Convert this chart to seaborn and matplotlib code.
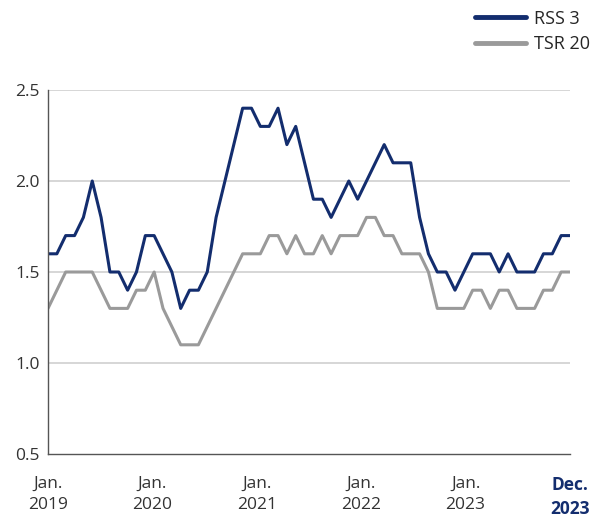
import numpy as np
import pandas as pd
import matplotlib.pyplot as plt
import seaborn as sns

months = pd.date_range("2019-01-01", "2023-12-01", freq="MS")

rss3 = [1.6, 1.6, 1.7, 1.7, 1.8, 2.0, 1.8, 1.5, 1.5, 1.4, 1.5, 1.7,
        1.7, 1.6, 1.5, 1.3, 1.4, 1.4, 1.5, 1.8, 2.0, 2.2, 2.4, 2.4,
        2.3, 2.3, 2.4, 2.2, 2.3, 2.1, 1.9, 1.9, 1.8, 1.9, 2.0, 1.9,
        2.0, 2.1, 2.2, 2.1, 2.1, 2.1, 1.8, 1.6, 1.5, 1.5, 1.4, 1.5,
        1.6, 1.6, 1.6, 1.5, 1.6, 1.5, 1.5, 1.5, 1.6, 1.6, 1.7, 1.7]
tsr20 = [1.3, 1.4, 1.5, 1.5, 1.5, 1.5, 1.4, 1.3, 1.3, 1.3, 1.4, 1.4,
         1.5, 1.3, 1.2, 1.1, 1.1, 1.1, 1.2, 1.3, 1.4, 1.5, 1.6, 1.6,
         1.6, 1.7, 1.7, 1.6, 1.7, 1.6, 1.6, 1.7, 1.6, 1.7, 1.7, 1.7,
         1.8, 1.8, 1.7, 1.7, 1.6, 1.6, 1.6, 1.5, 1.3, 1.3, 1.3, 1.3,
         1.4, 1.4, 1.3, 1.4, 1.4, 1.3, 1.3, 1.3, 1.4, 1.4, 1.5, 1.5]

series_names = ["RSS 3", "TSR 20"]
tick_labels = ["Jan.\n2019", "Jan.\n2020", "Jan.\n2021", "Jan.\n2022", "Jan.\n2023", "Dec.\n2023"]
y_ticks = [0.5, 1.0, 1.5, 2.0, 2.5]

navy = "#132d6e"
grey = "#9a9a9a"

df = pd.DataFrame({"idx": np.arange(len(months)), "RSS 3": rss3, "TSR 20": tsr20})
long = df.melt(id_vars="idx", var_name="series", value_name="value")

sns.set_style("white")
plt.rcParams["font.family"] = ["Open Sans", "DejaVu Sans"]

fig = plt.figure(figsize=(5.9, 5.17), dpi=100)
ax = fig.add_axes([48 / 590, 1 - 454 / 517, (570 - 48) / 590, (454 - 90) / 517])

sns.lineplot(data=long, x="idx", y="value", hue="series", hue_order=series_names,
             palette=[navy, grey], linewidth=2.2, ax=ax, legend=False)

ax.set_xlim(0, len(months) - 1)
ax.set_ylim(0.5, 2.5)
ax.set_yticks(y_ticks)
ax.set_yticklabels([f"{v:.1f}" for v in y_ticks], fontsize=12.5, color="#333333")
for v in y_ticks[1:]:
    ax.axhline(v, color="#d0d0d0", linewidth=1.2, zorder=0)

ax.set_xticks(np.linspace(0, len(months) - 1, 6))
ax.set_xticklabels(tick_labels, fontsize=12.5, color="#333333", linespacing=1.42)
last = ax.get_xticklabels()[-1]
last.set_fontweight("bold")
last.set_color(navy)
ax.tick_params(axis="both", length=0)
ax.tick_params(axis="x", pad=16)
ax.tick_params(axis="y", pad=6)
ax.set_xlabel("")
ax.set_ylabel("")

for s in ["top", "right"]:
    ax.spines[s].set_visible(False)
for s in ["left", "bottom"]:
    ax.spines[s].set_color("#555555")
    ax.spines[s].set_linewidth(1.0)

handles = [plt.Line2D([], [], color=navy, linewidth=3.5, solid_capstyle="round"),
           plt.Line2D([], [], color=grey, linewidth=3.5, solid_capstyle="round")]
fig.legend(handles, series_names, loc="upper right", bbox_to_anchor=(1.012, 0.995),
           frameon=False, fontsize=13, handlelength=2.8, handletextpad=0.45,
           labelspacing=0.4, borderaxespad=0.0)

fig.savefig("out.png", dpi=100)
